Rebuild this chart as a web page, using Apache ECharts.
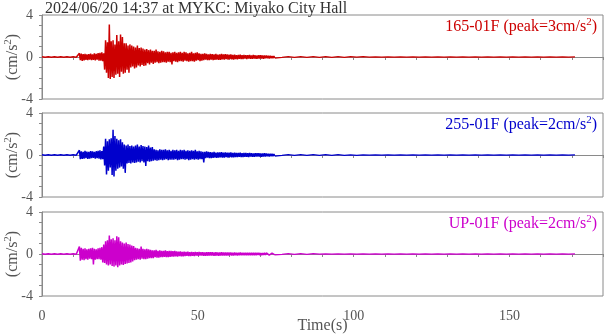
<!DOCTYPE html>
<html>
<head>
<meta charset="utf-8">
<script src="https://cdn.jsdelivr.net/npm/echarts@6/dist/echarts.min.js"></script>
<style>html,body{margin:0;padding:0;background:#fff}#c{width:605px;height:334px}</style>
</head>
<body>
<div id="c"></div>
<script>
// ---- data ----
const chartTitle = '2024/06/20 14:37 at MYKC: Miyako City Hall';
const channelNames = ['165-01F', '255-01F', 'UP-01F'];
const peakValues = [3, 2, 2];
const xTickLabels = [0, 50, 100, 150];
const yTickLabels = [-4, 0, 4];

// sampling of the hand-read traces (seconds)
const preStart = 0, preStep = 1;        // quiet part before the P onset
const mainStart = 12.0, mainStep = 0.3; // strong-motion part
const tailStart = 75, tailStep = 2;     // coda

const preRed  = [0.02,-0.02,0.02,-0.02,0.02,-0.02,0.02,-0.02,0.02,-0.02,0.02,-0.02];
const preBlue = [0.02,-0.02,0.02,-0.02,0.02,-0.02,0.02,-0.02,0.02,-0.02,0.02,-0.02];
const preMag  = [0.02,-0.02,0.02,-0.02,0.02,-0.02,0.02,-0.02,0.02,-0.02,0.02,-0.02];

const mainRed = [
0.35,-0.3,0.32,-0.38,0.28,-0.33,0.3,-0.27,0.25,-0.3,
0.28,-0.25,0.33,-0.3,0.26,-0.28,0.35,-0.32,0.3,-0.26,
0.38,-0.34,0.4,-0.36,0.45,-0.4,0.35,-1.2,1.6,-1.5,
1.4,-2.0,3.1,-2.1,1.5,-1.9,1.6,-2.0,1.2,-1.7,
2.1,-1.6,1.5,-1.9,2.15,-1.4,1.9,-1.6,1.3,-1.5,
1.3,-1.2,1.1,-1.5,1.2,-1.0,1.1,-0.9,1.0,-1.1,
0.9,-1.0,1.1,-0.8,0.85,-0.9,0.9,-0.75,0.8,-0.85,
0.7,-0.8,0.75,-0.6,0.65,-0.7,0.7,-0.55,0.6,-0.65,
0.6,-0.55,0.7,-0.5,0.55,-0.6,0.5,-0.55,0.6,-0.5,
0.55,-0.5,0.45,-0.55,0.5,-0.45,0.5,-0.5,0.4,-0.7,
0.45,-0.4,0.5,-0.45,0.4,-0.5,0.45,-0.4,0.5,-0.4,
0.4,-0.45,0.5,-0.35,0.45,-0.4,0.35,-0.45,0.4,-0.4,
0.5,-0.4,0.35,-0.45,0.4,-0.35,0.45,-0.3,0.35,-0.4,
0.3,-0.35,0.3,-0.3,0.35,-0.25,0.3,-0.3,0.25,-0.3,
0.3,-0.25,0.28,-0.3,0.25,-0.28,0.3,-0.25,0.22,-0.28,
0.25,-0.28,0.3,-0.22,0.25,-0.25,0.28,-0.2,0.25,-0.24,
0.22,-0.2,0.25,-0.22,0.2,-0.25,0.22,-0.2,0.18,-0.22,
0.2,-0.18,0.22,-0.2,0.18,-0.2,0.2,-0.16,0.18,-0.2,
0.18,-0.16,0.2,-0.18,0.16,-0.18,0.2,-0.15,0.16,-0.18,
0.15,-0.16,0.18,-0.14,0.16,-0.15,0.14,-0.16,0.15,-0.13,
0.14,-0.12,0.13,-0.14,0.12,-0.12,0.1,-0.12,0.1,-0.1
];
const mainBlue = [
0.45,-0.4,0.35,-0.38,0.3,-0.35,0.4,-0.3,0.32,-0.36,
0.3,-0.35,0.38,-0.3,0.35,-0.28,0.3,-0.34,0.36,-0.3,
0.4,-0.35,0.45,-0.42,0.38,-0.4,0.8,-1.0,1.55,-1.85,
1.3,-1.5,1.5,-1.2,1.6,-1.9,2.4,-2.05,1.8,-1.5,
1.55,-1.3,1.4,-1.2,1.5,-1.1,1.2,-1.3,1.0,-1.7,
0.9,-0.8,1.0,-0.75,0.85,-0.8,0.9,-0.7,0.8,-0.75,
0.9,-0.7,1.0,-0.65,0.8,-0.7,0.95,-0.6,0.85,-0.7,
0.8,-1.05,0.75,-0.6,0.9,-0.65,0.7,-0.6,0.75,-0.55,
0.55,-0.5,0.5,-0.55,0.45,-0.5,0.55,-0.45,0.5,-0.5,
0.5,-0.45,0.55,-0.4,0.45,-0.5,0.5,-0.45,0.4,-0.45,
0.5,-0.45,0.45,-0.4,0.5,-0.5,0.4,-0.45,0.5,-0.4,
0.45,-0.4,0.5,-0.45,0.4,-0.4,0.45,-0.5,0.4,-0.45,
0.45,-0.4,0.4,-0.45,0.5,-0.4,0.35,-0.45,0.4,-0.4,
0.35,-0.4,0.3,-0.7,0.3,-0.3,0.35,-0.25,0.3,-0.3,
0.28,-0.3,0.25,-0.28,0.3,-0.25,0.22,-0.28,0.25,-0.25,
0.25,-0.22,0.28,-0.25,0.22,-0.24,0.25,-0.2,0.22,-0.25,
0.22,-0.2,0.24,-0.22,0.2,-0.22,0.22,-0.2,0.2,-0.2,
0.2,-0.18,0.22,-0.2,0.18,-0.2,0.2,-0.18,0.2,-0.18,
0.18,-0.2,0.2,-0.16,0.18,-0.18,0.16,-0.18,0.18,-0.15,
0.16,-0.15,0.18,-0.16,0.15,-0.16,0.14,-0.15,0.16,-0.14,
0.14,-0.13,0.12,-0.14,0.12,-0.12,0.11,-0.12,0.1,-0.1
];
const mainMag = [
0.7,-0.63,0.6,-0.55,0.5,-0.6,0.55,-0.5,0.45,-0.55,
0.5,-0.45,0.55,-0.5,0.6,-1.0,0.5,-0.55,0.45,-0.5,
0.55,-0.5,0.6,-0.55,0.65,-0.8,0.9,-0.85,1.2,-1.0,
1.3,-1.1,1.75,-1.0,1.4,-1.15,1.5,-1.2,1.3,-1.1,
1.7,-1.27,1.6,-1.1,1.2,-1.0,1.1,-1.05,1.0,-0.95,
1.1,-0.9,0.95,-0.85,0.9,-0.8,0.8,-0.7,0.75,-0.6,
0.6,-0.55,0.55,-0.5,0.5,-0.55,0.7,-0.45,0.5,-0.5,
0.45,-0.5,0.5,-0.45,0.45,-0.4,0.4,-0.4,0.35,-0.4,
0.35,-0.3,0.4,-0.35,0.3,-0.35,0.35,-0.3,0.3,-0.3,
0.3,-0.28,0.35,-0.3,0.28,-0.3,0.3,-0.28,0.3,-0.25,
0.28,-0.25,0.3,-0.22,0.25,-0.25,0.22,-0.2,0.25,-0.22,
0.2,-0.22,0.22,-0.2,0.2,-0.18,0.22,-0.2,0.18,-0.2,
0.2,-0.18,0.18,-0.2,0.2,-0.16,0.18,-0.18,0.2,-0.16,
0.18,-0.16,0.18,-0.18,0.16,-0.18,0.18,-0.16,0.16,-0.15,
0.16,-0.15,0.18,-0.16,0.15,-0.16,0.16,-0.14,0.15,-0.16,
0.15,-0.14,0.16,-0.15,0.14,-0.15,0.15,-0.14,0.14,-0.15,
0.14,-0.13,0.15,-0.14,0.13,-0.14,0.14,-0.13,0.13,-0.14,
0.13,-0.12,0.14,-0.13,0.12,-0.13,0.13,-0.12,0.12,-0.13,
0.12,-0.12,0.13,-0.12,0.11,-0.12,0.12,-0.11,0.12,-0.11,
0.11,-0.1,0.12,-0.11,0.1,-0.11,0.1,-0.1,0.11,-0.1,
0.1,-0.09,0.1,-0.1,0.09,-0.09,0.08,-0.09,0.08,-0.08
];

// coda, one value every 2 s from 75 s to 171 s (49 values)
const tailRed = [
0.04,-0.04,0.03,-0.04,0.03,-0.03,0.03,-0.03,0.03,-0.03,
0.03,-0.03,0.03,-0.02,0.03,-0.02,0.02,-0.02,0.02,-0.02,
0.02,-0.02,0.02,-0.02,0.02,-0.02,0.02,-0.02,0.02,-0.02,
0.02,-0.02,0.02,-0.02,0.02,-0.02,0.02,-0.01,0.02,-0.01,
0.01,-0.01,0.01,-0.01,0.01,-0.01,0.01,-0.01,0.01
];
const tailBlue = [
0.04,-0.04,0.03,-0.04,0.03,-0.03,0.03,-0.03,0.03,-0.03,
0.03,-0.03,0.02,-0.03,0.02,-0.02,0.02,-0.02,0.02,-0.02,
0.02,-0.02,0.02,-0.02,0.02,-0.02,0.02,-0.02,0.02,-0.02,
0.02,-0.02,0.02,-0.01,0.02,-0.02,0.01,-0.02,0.01,-0.01,
0.01,-0.01,0.01,-0.01,0.01,-0.01,0.01,-0.01,0.01
];
const tailMag = [
0.03,-0.03,0.03,-0.03,0.03,-0.03,0.03,-0.02,0.02,-0.02,
0.02,-0.02,0.02,-0.02,0.02,-0.02,0.02,-0.02,0.02,-0.02,
0.02,-0.02,0.02,-0.01,0.02,-0.01,0.01,-0.01,0.01,-0.01,
0.01,-0.01,0.01,-0.01,0.01,-0.01,0.01,-0.01,0.01,-0.01,
0.01,-0.01,0.01,-0.01,0.01,-0.01,0.01,-0.01,0.01
];

// ---- build ----
function buildMain(pre, main) {
  const out = [];
  pre.forEach((v, i) => out.push([preStart + i * preStep, v]));
  main.forEach((v, i) => out.push([+(mainStart + i * mainStep).toFixed(2), v]));
  return out;
}
function buildTail(main, tail) {
  const n = main.length - 1;
  const out = [[+(mainStart + n * mainStep).toFixed(2), main[n]]];
  tail.forEach((v, i) => out.push([tailStart + i * tailStep, v]));
  return out;
}
const strong = [buildMain(preRed, mainRed), buildMain(preBlue, mainBlue), buildMain(preMag, mainMag)];
const coda = [buildTail(mainRed, tailRed), buildTail(mainBlue, tailBlue), buildTail(mainMag, tailMag)];

const colors = ['#cc0000', '#0000cc', '#cc00cc'];
const FONT = 'Liberation Serif';
const AX = '#8a8a8a';
const LBL = '#555555';
const tops = [15, 113, 212];
const H = 84;

const chart = echarts.init(document.getElementById('c'), null, {renderer: 'canvas'});
const supRich = (color, size) => ({
  sup: {fontSize: size, fontFamily: FONT, color: color, verticalAlign: 'top', padding: [0, 0, 8, 0]}
});

const series = [];
strong.forEach((d, i) => series.push({
  type: 'line', xAxisIndex: i, yAxisIndex: i, data: d,
  showSymbol: false, symbol: 'none', sampling: null,
  lineStyle: {color: colors[i], width: 1.5}, silent: true
}));
coda.forEach((d, i) => series.push({
  type: 'line', xAxisIndex: i, yAxisIndex: i, data: d,
  showSymbol: false, symbol: 'none', sampling: null,
  lineStyle: {color: colors[i], width: 1.3}, silent: true
}));

const option = {
  animation: false,
  backgroundColor: '#fff',
  title: [
    {text: chartTitle, left: 40, top: -4,
     textStyle: {fontFamily: FONT, fontSize: 16, fontWeight: 'normal', color: '#333'}}
  ].concat(channelNames.map((n, i) => ({
    text: n + ' (peak=' + peakValues[i] + 'cm/s{sup|2})',
    right: 3, top: tops[i] - 3,
    textStyle: {fontFamily: FONT, fontSize: 16, fontWeight: 'normal', color: colors[i], rich: supRich(colors[i], 11)}
  }))),
  grid: tops.map(t => ({left: 42, right: 2, top: t, height: H, show: true, borderColor: AX, borderWidth: 1,
    backgroundColor: 'transparent', containLabel: false, outerBoundsMode: 'none'})),
  xAxis: tops.map((t, i) => ({
    gridIndex: i, type: 'value', min: 0, max: 180, interval: 10,
    axisLine: {show: true, lineStyle: {color: AX}},
    axisTick: {show: true, length: 3, inside: false, lineStyle: {color: AX}},
    splitLine: {show: false},
    axisLabel: {show: i === 2, color: LBL, fontFamily: FONT, fontSize: 14, margin: 13,
      formatter: v => (xTickLabels.indexOf(v) >= 0 ? String(v) : '')},
    name: i === 2 ? 'Time(s)' : '', nameLocation: 'middle', nameGap: 22, nameMoveOverlap: false,
    nameTextStyle: {color: LBL, fontFamily: FONT, fontSize: 16}
  })),
  yAxis: tops.map((t, i) => ({
    gridIndex: i, type: 'value', min: -4, max: 4, interval: 1,
    axisLine: {show: true, lineStyle: {color: AX}},
    axisTick: {show: true, length: 3, inside: false, lineStyle: {color: AX}},
    splitLine: {show: false},
    axisLabel: {color: LBL, fontFamily: FONT, fontSize: 14, margin: 9,
      formatter: v => (yTickLabels.indexOf(v) >= 0 ? String(v) : '')},
    name: '(cm/s{sup|2})', nameLocation: 'middle', nameGap: 20, nameRotate: 90, nameMoveOverlap: false,
    nameTextStyle: {color: LBL, fontFamily: FONT, fontSize: 16, rich: supRich(LBL, 11)}
  })),
  series: series
};
chart.setOption(option);
</script>
</body>
</html>
